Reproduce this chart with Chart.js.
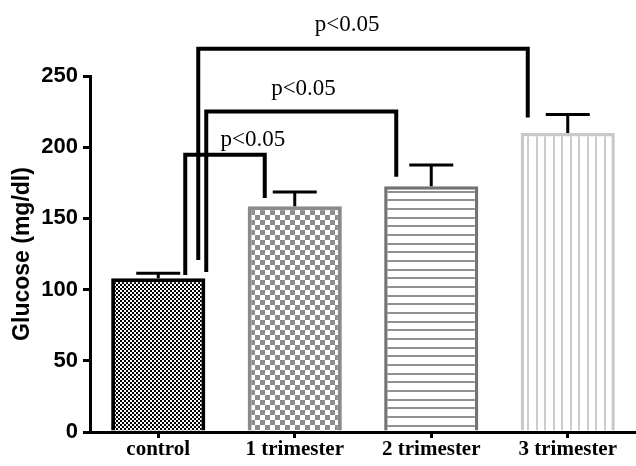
<!DOCTYPE html>
<html>
<head>
<meta charset="utf-8">
<title>Glucose by trimester</title>
<script src="https://cdn.jsdelivr.net/npm/chart.js@4/dist/chart.umd.min.js"></script>
<style>
  html, body { margin: 0; padding: 0; background: #fff; }
  #chart { display: block; }
</style>
</head>
<body>
<canvas id="chart" width="636" height="466"></canvas>
<script>
// Group means and SEM (mg/dl)
const groups = ['control', '1 trimester', '2 trimester', '3 trimester'];
const glucose = [108, 158.5, 172.5, 210];
const glucoseSem = [3.5, 10, 15, 13];
const yTicks = [0, 50, 100, 150, 200, 250];

// Significance brackets: group pairs, bar height and leg ends (mg/dl)
const bracketFrom = [0, 0, 0];
const bracketTo = [1, 2, 3];
const bracketTop = [194.7, 225, 269.2];
const bracketLeftEnd = [110.2, 112.3, 120.8];
const bracketRightEnd = [164.4, 179.2, 220.8];
const bracketText = ['p<0.05', 'p<0.05', 'p<0.05'];
const bracketTextAt = [0.694, 1.064, 1.383];   // along the category axis
const bracketTextBase = [201, 237, 281.5];     // baseline, mg/dl

// pixel offsets of the bracket legs from the bar centres
const legShiftLeft = [27, 48, 40];
const legShiftRight = [-30, -35, -40];

const canvas = document.getElementById('chart');
const ctx0 = canvas.getContext('2d');

function makePattern(w, h, paint) {
  const c = document.createElement('canvas');
  c.width = w; c.height = h;
  const g = c.getContext('2d');
  g.fillStyle = '#fff';
  g.fillRect(0, 0, w, h);
  paint(g);
  return ctx0.createPattern(c, 'repeat');
}

const fills = [
  makePattern(4, 4, g => { g.fillStyle = '#000'; g.fillRect(0, 0, 2, 2); g.fillRect(2, 2, 2, 2); }),
  makePattern(10, 10, g => { g.fillStyle = '#8c8c8c'; g.fillRect(0, 0, 5, 5); g.fillRect(5, 5, 5, 5); }),
  makePattern(4, 26, g => { g.fillStyle = '#909090'; [0, 9, 17].forEach(y => g.fillRect(0, y, 4, 2)); }),
  makePattern(17, 4, g => { g.fillStyle = '#cbcbcb'; [0, 9].forEach(x => g.fillRect(x, 0, 2, 4)); })
];

const errorBars = {
  id: 'errorBars',
  afterDatasetsDraw(chart) {
    const { ctx, scales: { x, y } } = chart;
    ctx.save();
    ctx.strokeStyle = '#000';
    ctx.lineWidth = 3;
    glucose.forEach((v, i) => {
      const cx = x.getPixelForValue(i);
      const yBar = y.getPixelForValue(v);
      const yErr = y.getPixelForValue(v + glucoseSem[i]);
      ctx.beginPath();
      ctx.moveTo(cx, yBar); ctx.lineTo(cx, yErr);
      ctx.moveTo(cx - 22, yErr); ctx.lineTo(cx + 22, yErr);
      ctx.stroke();
    });
    ctx.restore();
  }
};

const brackets = {
  id: 'brackets',
  afterDraw(chart) {
    const { ctx, scales: { x, y } } = chart;
    ctx.save();
    ctx.strokeStyle = '#000';
    ctx.lineWidth = 4;
    ctx.lineJoin = 'miter';
    bracketFrom.forEach((from, i) => {
      const xl = x.getPixelForValue(from) + legShiftLeft[i];
      const xr = x.getPixelForValue(bracketTo[i]) + legShiftRight[i];
      const yt = y.getPixelForValue(bracketTop[i]);
      ctx.beginPath();
      ctx.moveTo(xl, y.getPixelForValue(bracketLeftEnd[i]));
      ctx.lineTo(xl, yt);
      ctx.lineTo(xr, yt);
      ctx.lineTo(xr, y.getPixelForValue(bracketRightEnd[i]));
      ctx.stroke();

      // label position along the category axis
      const x0 = x.getPixelForValue(0), x1 = x.getPixelForValue(1);
      const tx = x0 + (x1 - x0) * bracketTextAt[i];
      ctx.fillStyle = '#000';
      ctx.font = '23px "Liberation Serif", "Times New Roman", serif';
      ctx.textAlign = 'center';
      ctx.textBaseline = 'alphabetic';
      ctx.fillText(bracketText[i], tx, y.getPixelForValue(bracketTextBase[i]));
    });
    ctx.restore();
  }
};

new Chart(canvas, {
  type: 'bar',
  data: {
    labels: groups,
    datasets: [{
      data: glucose,
      backgroundColor: fills,
      borderColor: ['#000', '#8a8a8a', '#737373', '#c9c9c9'],
      borderWidth: [4, 4, 3.5, 3.5],
      barPercentage: 0.69,
      categoryPercentage: 1
    }]
  },
  options: {
    responsive: false,
    animation: false,
    layout: { padding: { top: 76, right: 0, bottom: 0, left: 0 } },
    plugins: { legend: { display: false }, tooltip: { enabled: false } },
    scales: {
      x: {
        afterFit: s => { s.height = 34; },
        grid: { offset: false, drawOnChartArea: false, drawTicks: true, tickLength: 6, lineWidth: 3, color: '#000' },
        border: { display: true, width: 3, color: '#000' },
        ticks: {
          color: '#000', padding: -1,
          font: { family: '"Liberation Serif", "Times New Roman", serif', size: 21, weight: 'bold' }
        }
      },
      y: {
        min: 0, max: 250,
        afterFit: s => { s.width = 90; },
        afterBuildTicks: s => { s.ticks = yTicks.map(v => ({ value: v })); },
        grid: { drawOnChartArea: false, drawTicks: true, tickLength: 7, lineWidth: 3, color: '#000' },
        border: { display: true, width: 3, color: '#000' },
        ticks: {
          color: '#000', padding: 5,
          font: { family: '"Liberation Sans", Arial, sans-serif', size: 22, weight: 'bold' }
        },
        title: {
          display: true, text: 'Glucose (mg/dl)', color: '#000',
          padding: { top: 9, bottom: 0 },
          font: { family: '"Liberation Sans", Arial, sans-serif', size: 23, weight: 'bold' }
        }
      }
    }
  },
  plugins: [errorBars, brackets]
});
</script>
</body>
</html>
